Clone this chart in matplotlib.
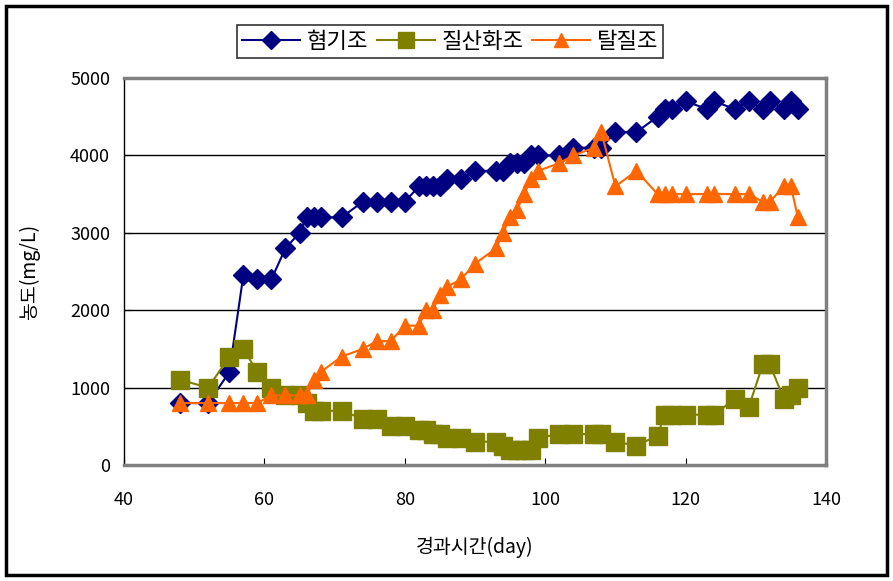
import matplotlib
matplotlib.use("Agg")
import matplotlib.pyplot as plt
from matplotlib.patches import Rectangle

plt.rcParams['font.family'] = ['Noto Sans CJK KR', 'DejaVu Sans']

days = [48, 52, 55, 57, 59, 61, 63, 65, 66, 67, 68, 71, 74, 76, 78, 80, 82, 83, 84, 85,
        86, 88, 90, 93, 94, 95, 96, 97, 98, 99, 102, 104, 107, 108, 110, 113, 116, 117,
        118, 120, 123, 124, 127, 129, 131, 132, 134, 135, 136]

anaerobic = [800, 800, 1200, 2450, 2400, 2400, 2800, 3000, 3200, 3200, 3200, 3200, 3400,
             3400, 3400, 3400, 3600, 3600, 3600, 3600, 3700, 3700, 3800, 3800, 3800, 3900,
             3900, 3900, 4000, 4000, 4000, 4100, 4100, 4100, 4300, 4300, 4500, 4600, 4600,
             4700, 4600, 4700, 4600, 4700, 4600, 4700, 4600, 4700, 4600]

nitrification = [1100, 1000, 1400, 1500, 1200, 1000, 900, 900, 800, 700, 700, 700, 600,
                 600, 500, 500, 450, 450, 400, 400, 350, 350, 300, 300, 250, 200, 200, 200,
                 200, 350, 400, 400, 400, 400, 300, 250, 380, 650, 650, 650, 650, 650, 850,
                 750, 1300, 1300, 850, 900, 1000]

denitrification = [800, 800, 800, 800, 800, 900, 900, 900, 900, 1100, 1200, 1400, 1500,
                   1600, 1600, 1800, 1800, 2000, 2000, 2200, 2300, 2400, 2600, 2800, 3000,
                   3200, 3300, 3500, 3700, 3800, 3900, 4000, 4100, 4300, 3600, 3800, 3500,
                   3500, 3500, 3500, 3500, 3500, 3500, 3500, 3400, 3400, 3600, 3600, 3200]

labels = ['혐기조', '질산화조', '탈질조']
x_ticks = [40, 60, 80, 100, 120, 140]
y_ticks = [0, 1000, 2000, 3000, 4000, 5000]

fig = plt.figure(figsize=(8.93, 5.81), dpi=100)
ax = fig.add_axes([124/893, 1-465/581, (826-124)/893, (465-78)/581])

l1, = ax.plot(days, anaerobic, color='#000080', marker='D', ms=10.5, lw=1.5, label=labels[0], zorder=3)
l2, = ax.plot(days, nitrification, color='#808000', marker='s', ms=13, lw=1.5, label=labels[1], zorder=3)
l3, = ax.plot(days, denitrification, color='#FF6600', marker='^', ms=12, lw=1.5, label=labels[2], zorder=3)

ax.set_xlim(40, 140)
ax.set_ylim(0, 5000)
ax.set_xticks(x_ticks)
ax.set_yticks(y_ticks)
ax.set_xticklabels([str(v) for v in x_ticks], fontsize=13)
ax.set_yticklabels([str(v) for v in y_ticks], fontsize=13)
ax.tick_params(axis='x', direction='in', length=5, pad=19, color='black')
ax.tick_params(axis='y', direction='in', length=5, pad=10, color='black')
ax.grid(axis='y', color='black', lw=1.0)
ax.set_axisbelow(True)

ax.spines['left'].set_color('black')
ax.spines['left'].set_linewidth(1.0)
for s in ['top', 'right', 'bottom']:
    ax.spines[s].set_color('#808080')
    ax.spines[s].set_linewidth(2.5)

ax.set_xlabel('경과시간(day)', fontsize=14, labelpad=20)
ax.set_ylabel('농도(mg/L)', fontsize=14, labelpad=22)

leg = fig.legend(handles=[l1, l2, l3], loc='center', bbox_to_anchor=(450/893, 1-41.5/581),
                 ncol=3, fontsize=16, frameon=True, fancybox=False, edgecolor='black',
                 handlelength=2.6, handletextpad=0.3, columnspacing=0.4, borderpad=0.22,
                 markerscale=0.85)
leg.get_frame().set_linewidth(1.2)

fig.patches.append(Rectangle((6/893, 6/581), 1-12/893, 1-12/581, transform=fig.transFigure,
                             fill=False, edgecolor='black', lw=2.5))

fig.savefig('out.png', dpi=100)
